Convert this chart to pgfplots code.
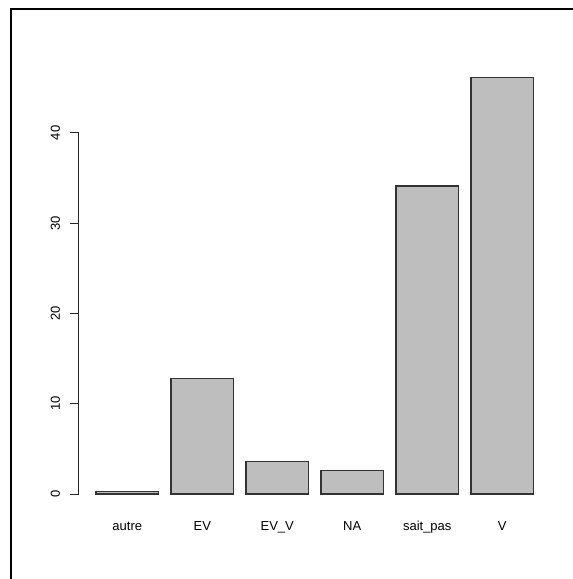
\documentclass[border=0pt]{standalone}
\usepackage{fontspec}
\setmainfont{Liberation Sans}
\usepackage{pgfplots}
\pgfplotsset{compat=1.18}
\definecolor{rgray}{HTML}{BEBEBE}
\begin{document}
\begin{tikzpicture}
\path[use as bounding box] (0pt,0pt) rectangle (573pt,579pt);
\draw[line width=2pt,black] (10.5pt,0pt) -- (10.5pt,569.5pt) -- (573pt,569.5pt);
\begin{axis}[
  at={(83.5pt,85pt)}, anchor=origin,
  scale only axis, width=472.5pt, height=449.5pt,
  xmin=-0.08, xmax=7.48, ymin=-1.84, ymax=47.94,
  axis lines*=left,
  x axis line style={draw=none},
  y axis line style={draw=none},
  ytick={0,10,20,30,40},
  ytick align=outside, ytick pos=left,
  xtick pos=bottom,
  major tick length=9pt,
  ytick style={black!85, line width=0.9pt},
  xtick style={draw=none},
  /pgf/number format/assume math mode=true,
  ticklabel style={font=\fontsize{13}{15}\selectfont},
  yticklabel style={rotate=90, anchor=south, xshift=0pt, yshift=6pt},
  xticklabel style={anchor=base, yshift=-20pt},
  xtick={0.7,1.9,3.1,4.3,5.5,6.7},
  xticklabels={autre,EV,EV\_V,NA,sait\_pas,V},
  clip=false,
]
\addplot[ybar, bar width=1, bar shift=0pt, fill=rgray, draw=black!80, line width=1.2pt]
  coordinates {(0.7,0.3) (1.9,12.8) (3.1,3.6) (4.3,2.6) (5.5,34.1) (6.7,46.1)};
\draw[black!85, line width=0.9pt] (axis cs:-0.08,0) -- (axis cs:-0.08,40);
\end{axis}
\end{tikzpicture}
\end{document}
